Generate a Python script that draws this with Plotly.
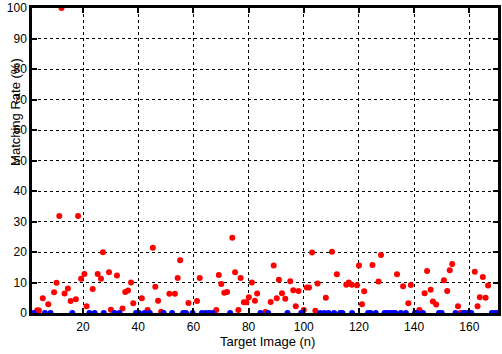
import plotly.graph_objects as go

red_x = [3.4, 4.0, 5.4, 7.4, 9.5, 10.4, 11.4, 12.2, 13.3, 14.5, 15.5, 17.4, 18.2, 19.3, 20.5,
         21.3, 23.5, 25.3, 26.5, 27.2, 29.4, 30.1, 32.3, 34.3, 35.3, 36.3, 37.4, 38.2, 41.3,
         43.4, 45.3, 46.2, 47.2, 48.3, 51.3, 53.3, 54.3, 55.2, 58.2, 61.3, 62.3, 68.3, 69.2,
         70.1, 71.2, 72.2, 74.1, 75.1, 76.3, 77.1, 78.3, 79.2, 80.1, 81.2, 82.3, 83.1, 86.1,
         88.0, 89.1, 90.2, 91.0, 92.1, 93.3, 95.1, 96.2, 97.1, 98.1, 100.0, 101.1, 101.9,
         103.0, 104.2, 105.0, 108.0, 110.2, 112.0, 115.4, 116.3, 117.4, 119.3, 120.0, 121.1,
         121.9, 124.9, 127.1, 128.0, 133.8, 136.0, 137.9, 138.8, 141.9, 143.8, 144.7, 146.0,
         146.8, 148.0, 150.8, 152.0, 152.9, 153.8, 155.9, 156.7, 162.0, 163.0, 163.8, 164.9,
         165.9, 166.8]
red_y = [0.9, 0.8, 4.8, 2.9, 6.8, 9.9, 31.8, 100, 6.4, 8.0, 3.9, 4.5, 31.8, 11.2, 12.8,
         2.2, 7.9, 12.8, 11.2, 19.9, 13.4, 1.1, 12.3, 1.5, 6.9, 7.4, 10.0, 3.2, 4.8,
         1.0, 21.4, 8.6, 4.0, 0.4, 6.3, 6.3, 11.5, 17.3, 3.3, 3.9, 11.5, 1.0, 12.5,
         9.5, 6.6, 6.9, 24.7, 13.4, 1.0, 11.5, 3.5, 3.5, 5.2, 10.0, 4.0, 6.4, 0.3,
         3.6, 15.6, 4.8, 10.9, 6.5, 4.7, 10.4, 7.5, 2.2, 7.2, 1.0, 8.4, 8.4,
         19.8, 0.75, 9.7, 5.0, 20.1, 12.7, 9.3, 10.0, 9.3, 9.1, 15.6, 2.9,
         7.1, 15.7, 10.3, 19.0, 12.7, 8.8, 3.2, 9.2, 1.0, 6.5, 13.8, 7.6,
         3.8, 2.8, 10.7, 7.2, 14.0, 16.1, 2.2, 0.0, 13.5, 2.2, 5.2, 11.8,
         5.0, 9.0]

blue_x = [1.1, 2.1, 6.2, 8.2, 16.1, 22.3, 24.2, 27.5, 31.4, 33.2, 39.2, 40.3, 42.3, 44.2,
          49.2, 52.3, 56.3, 57.3, 59.7, 63.1, 64.5, 65.7, 66.9, 73.3, 84.3, 87.1, 94.1, 99.1,
          106.0, 107.5, 109.0, 111.0, 113.2, 114.0, 117.5, 123.3, 124.2, 126.1, 129.3, 130.3,
          131.2, 132.3, 133.2, 135.2, 137.0, 140.3, 141.0, 143.2, 149.0, 150.0, 155.0, 157.8,
          158.7, 159.8, 160.7, 168.2, 169.3, 170.2]
blue_y = [0] * len(blue_x)

x_ticks = [20, 40, 60, 80, 100, 120, 140, 160]
y_ticks = [0, 10, 20, 30, 40, 50, 60, 70, 80, 90, 100]

font = dict(family="Arial, Liberation Sans, sans-serif", size=12, color="black")

fig = go.Figure()
fig.add_trace(go.Scatter(x=red_x, y=red_y, mode="markers",
                         marker=dict(color="#ff0000", size=6, line=dict(width=0)),
                         cliponaxis=False, showlegend=False))
fig.add_trace(go.Scatter(x=blue_x, y=blue_y, mode="markers",
                         marker=dict(color="#0000ff", size=6, line=dict(width=0)),
                         cliponaxis=False, showlegend=False))

axis_common = dict(showline=True, linewidth=2.5, linecolor="black", mirror="ticks",
                   ticks="inside", ticklen=5, tickwidth=2, tickcolor="black",
                   showgrid=True, gridcolor="black", gridwidth=1, griddash="dot",
                   zeroline=False, tickfont=font, ticklabeloverflow="allow")

fig.update_xaxes(range=[1.5, 170.4], tickvals=x_ticks, ticktext=[str(v) for v in x_ticks],
                 ticklabelstandoff=1, **axis_common)
fig.update_yaxes(range=[0, 100], tickvals=y_ticks, ticktext=[str(v) for v in y_ticks],
                 **axis_common)

fig.add_annotation(text="Target Image (n)", xref="paper", yref="paper",
                   x=(269 - 32) / 469, y=(313 - 341.5) / 307, showarrow=False,
                   xanchor="center", yanchor="middle",
                   font=dict(family=font["family"], size=13, color="black"))
fig.add_annotation(text="Matching Rate (%)", xref="paper", yref="paper",
                   x=(15.5 - 32) / 469, y=(313 - 111) / 307, showarrow=False,
                   textangle=-90, xanchor="center", yanchor="middle",
                   font=dict(family=font["family"], size=13, color="black"))

fig.update_layout(width=502, height=354, margin=dict(l=32, r=1, t=6, b=41),
                  paper_bgcolor="white", plot_bgcolor="white", font=font)

fig.write_html("out.html")
